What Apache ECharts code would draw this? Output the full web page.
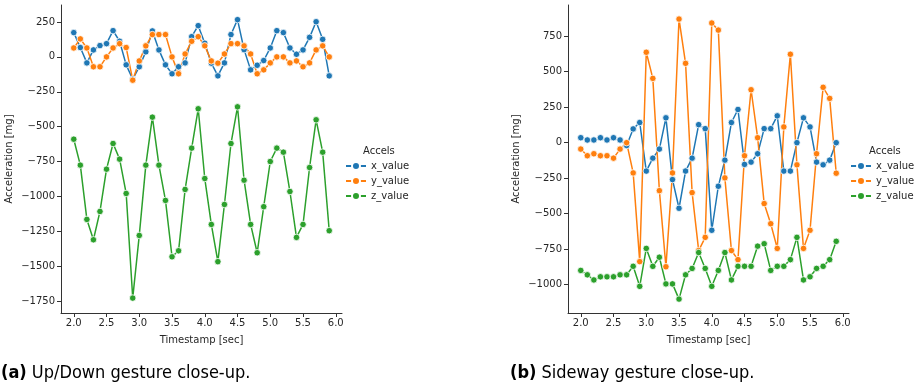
<!DOCTYPE html>
<html>
<head>
<meta charset="utf-8">
<script src="https://cdn.jsdelivr.net/npm/echarts@6/dist/echarts.min.js"></script>
<style>
  html, body { margin: 0; padding: 0; background: #fff; }
  #chart { width: 919px; height: 386px; }
</style>
</head>
<body>
<div id="chart"></div>
<script>
// timestamps, 2.0 .. 5.9 sec
var timestamps = [2.0,2.1,2.2,2.3,2.4,2.5,2.6,2.7,2.8,2.9,3.0,3.1,3.2,3.3,3.4,3.5,3.6,3.7,3.8,3.9,
                  4.0,4.1,4.2,4.3,4.4,4.5,4.6,4.7,4.8,4.9,5.0,5.1,5.2,5.3,5.4,5.5,5.6,5.7,5.8,5.9];

// (a) up/down gesture
var upX = [174,67,-43,50,81,95,188,112,-57,-160,-71,36,186,50,-57,-121,-71,-43,145,224,
           98,-45,-136,-43,160,267,52,-93,-60,-26,64,188,174,64,19,50,140,252,126,-136];
var upY = [64,129,64,-71,-71,0,64,95,67,-167,-29,79,160,160,160,0,-121,21,112,145,
           79,-29,-45,21,95,95,79,21,-121,-93,-43,0,0,-43,-29,-71,-43,50,79,0];
var upZ = [-590,-776,-1165,-1311,-1108,-805,-621,-733,-979,-1729,-1280,-776,-432,-776,-1029,-1433,-1390,-950,-654,-372,
           -872,-1201,-1468,-1058,-621,-358,-884,-1201,-1404,-1074,-750,-654,-683,-965,-1294,-1201,-793,-451,-683,-1246];

// (b) sideway gesture
var sideX = [35,19,19,35,19,35,19,-20,97,142,-200,-109,-45,175,-260,-462,-200,-109,127,99,
             -617,-307,-123,142,234,-153,-137,-78,99,99,189,-200,-200,0,175,111,-137,-156,-123,0];
var sideY = [-45,-92,-78,-92,-92,-109,-45,0,-213,-838,637,453,-338,-874,-213,871,559,-352,-760,-667,
             843,793,-248,-760,-824,-92,373,35,-429,-571,-745,111,623,-156,-745,-617,-78,390,312,-215];
var sideZ = [-900,-931,-967,-945,-945,-945,-931,-931,-871,-1012,-745,-871,-807,-995,-995,-1102,-931,-886,-774,-886,
             -1012,-900,-774,-967,-871,-871,-871,-729,-712,-900,-871,-871,-824,-667,-967,-945,-886,-871,-824,-695];

var xTicks = [2.0,2.5,3.0,3.5,4.0,4.5,5.0,5.5,6.0];
var upTicks = [-1750,-1500,-1250,-1000,-750,-500,-250,0,250];
var sideTicks = [-1000,-750,-500,-250,0,250,500,750];

var seriesNames = ['x_value','y_value','z_value'];
var colors = ['#1f77b4','#ff7f0e','#2ca02c'];

var tickFont = 'DejaVu Sans';
var capFont = 'DejaVu Sans Condensed, Liberation Sans Narrow, Liberation Sans, sans-serif';
var txt = '#262626';

function pairs(vals){
  return timestamps.map(function(t, i){ return [t, vals[i]]; });
}
function fmtY(v){ return String(v).replace('-', '\u2212'); }

function xAxis(gi){
  return {
    type: 'value', gridIndex: gi, min: 1.805, max: 6.095,
    name: 'Timestamp [sec]', nameLocation: 'middle', nameGap: 22,
    nameTextStyle: { fontFamily: tickFont, fontSize: 10, color: txt },
    splitLine: { show: false },
    axisLine: { onZero: false, lineStyle: { color: '#333', width: 1 } },
    axisTick: { show: true, length: 4, customValues: xTicks, lineStyle: { color: '#333' } },
    axisLabel: { customValues: xTicks, fontFamily: tickFont, fontSize: 10, color: txt, margin: 5,
                 formatter: function(v){ return v.toFixed(1); } }
  };
}
function yAxis(gi, mn, mx, ticks){
  return {
    type: 'value', gridIndex: gi, min: mn, max: mx,
    name: 'Acceleration [mg]', nameLocation: 'middle', nameGap: 47,
    nameTextStyle: { fontFamily: tickFont, fontSize: 10, color: txt },
    splitLine: { show: false },
    axisLine: { show: true, onZero: false, lineStyle: { color: '#333', width: 1 } },
    axisTick: { show: true, length: 4, customValues: ticks, lineStyle: { color: '#333' } },
    axisLabel: { customValues: ticks, fontFamily: tickFont, fontSize: 10, color: txt, margin: 6,
                 formatter: fmtY }
  };
}
function line(name, ci, gi, vals){
  return {
    type: 'line', name: name, xAxisIndex: gi, yAxisIndex: gi,
    data: pairs(vals), symbol: 'circle', symbolSize: 6.5,
    itemStyle: { color: colors[ci], borderColor: '#fff', borderWidth: 0.8 },
    lineStyle: { color: colors[ci], width: 1.5 },
    animation: false
  };
}
function legend(left, top){
  return {
    orient: 'vertical', left: left, top: top, padding: 0,
    data: seriesNames, itemWidth: 20, itemHeight: 10, itemGap: 5,
    textStyle: { fontFamily: tickFont, fontSize: 10, color: txt }
  };
}
function caption(tag, text, left){
  return {
    text: '{b|' + tag + '} ' + text, left: left, top: 364, padding: 0,
    textStyle: { fontFamily: capFont, fontSize: 18, fontWeight: 'normal', color: '#000',
      rich: { b: { fontFamily: capFont, fontSize: 18, fontWeight: 'bold', color: '#000' } } }
  };
}

var chart = echarts.init(document.getElementById('chart'), null, { renderer: 'canvas' });
chart.setOption({
  animation: false,
  backgroundColor: '#fff',
  grid: [
    { left: 61, top: 5, width: 281, height: 308 },
    { left: 568, top: 5, width: 281, height: 308 }
  ],
  xAxis: [xAxis(0), xAxis(1)],
  yAxis: [yAxis(0, -1836, 372, upTicks), yAxis(1, -1200, 970, sideTicks)],
  legend: [legend(345, 161), legend(850, 161)],
  title: [
    { text: 'Accels', left: 363, top: 146, padding: 0, textStyle: { fontFamily: tickFont, fontSize: 10, fontWeight: 'normal', color: txt } },
    { text: 'Accels', left: 869, top: 146, padding: 0, textStyle: { fontFamily: tickFont, fontSize: 10, fontWeight: 'normal', color: txt } },
    caption('(a)', 'Up/Down gesture close-up.', 1),
    caption('(b)', 'Sideway gesture close-up.', 510)
  ],
  series: [
    line('x_value', 0, 0, upX), line('y_value', 1, 0, upY), line('z_value', 2, 0, upZ),
    line('x_value', 0, 1, sideX), line('y_value', 1, 1, sideY), line('z_value', 2, 1, sideZ)
  ]
});
</script>
</body>
</html>
